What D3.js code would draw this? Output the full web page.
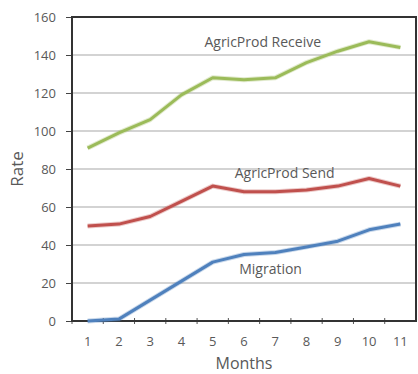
<!DOCTYPE html>
<html>
<head>
<meta charset="utf-8">
<script src="https://cdn.jsdelivr.net/npm/d3@7"></script>
<style>
  body { margin: 0; background: #fff; }
  svg { display: block; }
  text { font-family: "Open Sans", "Liberation Sans", sans-serif; fill: #595959; }
</style>
</head>
<body>
<svg width="418" height="374"></svg>
<script>
// chart data
var months = [1, 2, 3, 4, 5, 6, 7, 8, 9, 10, 11];
var receive = [91, 99, 106, 119, 128, 127, 128, 136, 142, 147, 144];
var send = [50, 51, 55, 63, 71, 68, 68, 69, 71, 75, 71];
var migration = [0, 1, 11, 21, 31, 35, 36, 39, 42, 48, 51];
var yTicks = [0, 20, 40, 60, 80, 100, 120, 140, 160];
var seriesNames = ["AgricProd Receive", "AgricProd Send", "Migration"];

// label anchors in data units (month position, value)
var series = [
    {name: seriesNames[0], values: receive, color: "#9bbb59", label: {m: 7.1, v: 144}},
    {name: seriesNames[1], values: send, color: "#c0504d", label: {m: 7.8, v: 75.5}},
    {name: seriesNames[2], values: migration, color: "#4f81bd", label: {m: 7.35, v: 24.5}}
];

var svg = d3.select("svg"),
    margin = {top: 17, right: 2, bottom: 53, left: 72},
    width = +svg.attr("width") - margin.left - margin.right,
    height = +svg.attr("height") - margin.top - margin.bottom;

var g = svg.append("g").attr("transform", "translate(" + margin.left + "," + margin.top + ")");

var x = d3.scaleBand()
    .domain(months)
    .range([0, width]);

var y = d3.scaleLinear()
    .domain([0, 160])
    .range([height, 0]);

// gridlines
g.selectAll(".grid")
    .data(yTicks.filter(function (d) { return d > 0 && d < 160; }))
    .enter().append("line")
    .attr("x1", 0)
    .attr("x2", width)
    .attr("y1", function (d) { return y(d); })
    .attr("y2", function (d) { return y(d); })
    .attr("stroke", "#c4c4c4")
    .attr("stroke-width", 1.5);

// y axis
var yAxis = g.append("g")
    .call(d3.axisLeft(y).tickValues(yTicks).tickSize(6).tickPadding(10));
yAxis.select(".domain").remove();
yAxis.selectAll("line").attr("stroke", "#444");
yAxis.selectAll("text").style("font-size", "13px").attr("fill", "#595959");

// x axis
var xAxis = g.append("g")
    .attr("transform", "translate(0," + height + ")")
    .call(d3.axisBottom(x).tickSize(0).tickPadding(16));
xAxis.select(".domain").remove();
xAxis.selectAll("text").style("font-size", "13px").attr("fill", "#595959");

// tick marks between categories
g.selectAll(".xtick")
    .data(months)
    .enter().append("line")
    .attr("x1", function (d) { return x(d); })
    .attr("x2", function (d) { return x(d); })
    .attr("y1", height - 3)
    .attr("y2", height + 3)
    .attr("stroke", "#555");

// plot frame
g.append("rect")
    .attr("width", width)
    .attr("height", height)
    .attr("fill", "none")
    .attr("stroke", "#333")
    .attr("stroke-width", 2);

var line = d3.line()
    .x(function (d, i) { return x(months[i]) + x.bandwidth() / 2; })
    .y(function (d) { return y(d); });

series.forEach(function (s) {
    g.append("path")
        .datum(s.values)
        .attr("fill", "none")
        .attr("stroke", s.color)
        .attr("stroke-opacity", 0.3)
        .attr("stroke-width", 5)
        .attr("stroke-linejoin", "round")
        .attr("d", line);
    g.append("path")
        .datum(s.values)
        .attr("fill", "none")
        .attr("stroke", s.color)
        .attr("stroke-width", 3)
        .attr("stroke-linejoin", "round")
        .attr("d", line);
    g.append("text")
        .attr("x", x(Math.floor(s.label.m)) + x.bandwidth() * (s.label.m % 1))
        .attr("y", y(s.label.v))
        .attr("text-anchor", "middle")
        .style("font-size", "14px")
        .attr("fill", "#404040")
        .text(s.name);
});

// axis titles
svg.append("text")
    .attr("transform", "translate(23," + (margin.top + height / 2) + ") rotate(-90)")
    .attr("text-anchor", "middle")
    .style("font-size", "17px")
    .attr("fill", "#404040")
    .text("Rate");

svg.append("text")
    .attr("x", margin.left + width / 2)
    .attr("y", 369)
    .attr("text-anchor", "middle")
    .style("font-size", "16px")
    .attr("fill", "#404040")
    .text("Months");
</script>
</body>
</html>
